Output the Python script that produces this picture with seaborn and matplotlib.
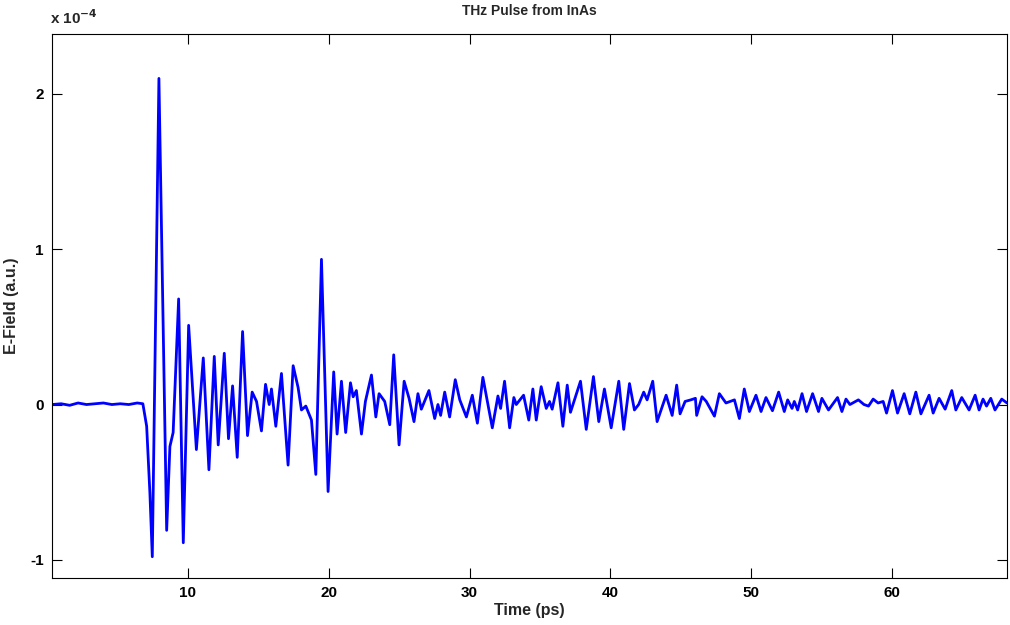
import matplotlib
matplotlib.use("Agg")
import matplotlib.pyplot as plt
import seaborn as sns
import pandas as pd

# time axis (ps) and field (units of 1e-4)
time_ps = [0.35, 1.0, 1.6, 2.2, 2.8, 3.4, 4.0, 4.6, 5.2, 5.8, 6.4, 6.8,
    7.07, 7.3, 7.47, 7.94, 8.49, 8.72, 8.95, 9.34, 9.67, 10.05, 10.6, 11.09,
    11.49, 11.87, 12.15, 12.58, 12.88, 13.17, 13.5, 13.88, 14.23, 14.56, 14.87,
    15.22, 15.51, 15.77, 15.93, 16.24, 16.64, 17.11, 17.47, 17.82, 18.06, 18.37,
    18.77, 19.08, 19.48, 19.95, 20.35, 20.59, 20.9, 21.2, 21.54, 21.73, 21.96,
    22.32, 22.6, 23.03, 23.34, 23.57, 23.97, 24.33, 24.61, 24.99, 25.35, 25.7,
    26.05, 26.33, 26.57, 27.11, 27.52, 27.75, 27.94, 28.23, 28.58, 28.98, 29.3,
    29.77, 30.19, 30.55, 30.94, 31.61, 32.01, 32.2, 32.48, 32.84, 33.14, 33.31,
    33.83, 34.2, 34.49, 34.73, 35.08, 35.44, 35.67, 35.86, 36.27, 36.62, 36.93,
    37.16, 37.87, 38.28, 38.79, 39.17, 39.57, 40.05, 40.59, 40.94, 41.35, 41.7,
    42.0, 42.36, 42.6, 43.0, 43.31, 43.95, 44.38, 44.7, 44.94, 45.3, 45.7,
    46.03, 46.12, 46.5, 46.8, 47.38, 47.73, 48.2, 48.8, 49.15, 49.5, 49.86,
    50.33, 50.69, 51.04, 51.5, 51.94, 52.34, 52.58, 52.89, 53.05, 53.29, 53.6,
    53.92, 54.35, 54.77, 55.01, 55.48, 56.12, 56.43, 56.72, 57.0, 57.6, 58.0,
    58.32, 58.65, 59.0, 59.36, 59.6, 60.02, 60.38, 60.85, 61.25, 61.68, 62.04,
    62.62, 62.91, 63.33, 63.76, 64.23, 64.52, 64.94, 65.46, 65.89, 66.17, 66.45,
    66.7, 67.0, 67.3, 67.78, 68.15]
efield = [0.0, 0.005, -0.005, 0.01, 0.0, 0.005, 0.01, 0.0, 0.005, 0.0, 0.01, 0.005,
    -0.14, -0.57, -0.98, 2.10, -0.81, -0.27, -0.18, 0.68, -0.89, 0.51, -0.29, 0.30,
    -0.42, 0.31, -0.26, 0.33, -0.22, 0.12, -0.34, 0.47, -0.20, 0.08, 0.02,
    -0.17, 0.13, 0.0, 0.10, -0.14, 0.20, -0.39, 0.25, 0.11, -0.035, -0.01,
    -0.10, -0.45, 0.935, -0.56, 0.21, -0.19, 0.15, -0.18, 0.14, 0.05, 0.09,
    -0.19, 0.02, 0.19, -0.08, 0.07, 0.02, -0.13, 0.32, -0.26, 0.15, 0.04,
    -0.11, 0.07, -0.03, 0.09, -0.09, 0.0, -0.07, 0.08, -0.08, 0.16, 0.03,
    -0.08, 0.06, -0.12, 0.175, -0.15, 0.055, -0.025, 0.15, -0.15, 0.045, 0.0,
    0.06, -0.10, 0.10, -0.10, 0.115, -0.025, 0.02, -0.03, 0.14, -0.14, 0.125,
    -0.05, 0.15, -0.16, 0.18, -0.11, 0.10, -0.15, 0.15, -0.16, 0.135, -0.035,
    0.0, 0.08, 0.03, 0.15, -0.11, 0.06, -0.07, 0.125, -0.06, 0.02, 0.03,
    0.04, -0.07, 0.05, 0.02, -0.075, 0.07, 0.01, 0.03, -0.09, 0.10, -0.045,
    0.06, -0.045, 0.045, -0.04, 0.08, -0.045, 0.03, -0.025, 0.02, -0.035, 0.07,
    -0.045, 0.07, -0.045, 0.04, -0.035, 0.045, -0.045, 0.035, 0.0, 0.03, 0.0,
    -0.01, 0.035, 0.01, 0.02, -0.055, 0.09, -0.055, 0.07, -0.06, 0.08, -0.06,
    0.06, -0.055, 0.04, -0.03, 0.09, -0.035, 0.045, -0.035, 0.06, -0.035, 0.035,
    -0.01, 0.04, -0.035, 0.035, 0.01]

xticks = [10, 20, 30, 40, 50, 60]
yticks = [-1, 0, 1, 2]

df = pd.DataFrame({"t": time_ps, "E": efield})

sns.set_style("ticks")
plt.rcParams['font.family'] = ['Liberation Sans', 'DejaVu Sans']
plt.rcParams['font.weight'] = 'bold'
plt.rcParams['axes.unicode_minus'] = False

fig = plt.figure(figsize=(10.1, 6.25), dpi=100)
ax = fig.add_axes([0.0515, 0.0752, 0.9455, 0.8704])
sns.lineplot(data=df, x="t", y="E", color="#0000ff", linewidth=2, ax=ax,
             estimator=None, sort=False)

ax.set_xlim(0.35, 68.15)
ax.set_ylim(-1.117, 2.386)
ax.set_xticks(xticks)
ax.set_yticks(yticks)
ax.tick_params(direction='in', length=7, width=0.8, top=True, right=True,
               labelsize=11, colors='black', pad=6)
for lab in ax.get_xticklabels() + ax.get_yticklabels():
    lab.set_fontweight('bold')
for s in ax.spines.values():
    s.set_linewidth(0.8)
    s.set_color('black')

ax.set_xlabel("Time (ps)", fontsize=11.5, fontweight='bold', labelpad=2)
ax.set_ylabel("E-Field (a.u.)", fontsize=11.5, fontweight='bold', labelpad=8)
ax.set_title("THz Pulse from InAs", fontsize=10, fontweight='bold', pad=14)
fig.text(0.05, 0.956, r"x 10$^{\mathbf{-4}}$", fontsize=11, fontweight='bold',
         va='bottom', ha='left')

fig.savefig("out.png", dpi=100)
